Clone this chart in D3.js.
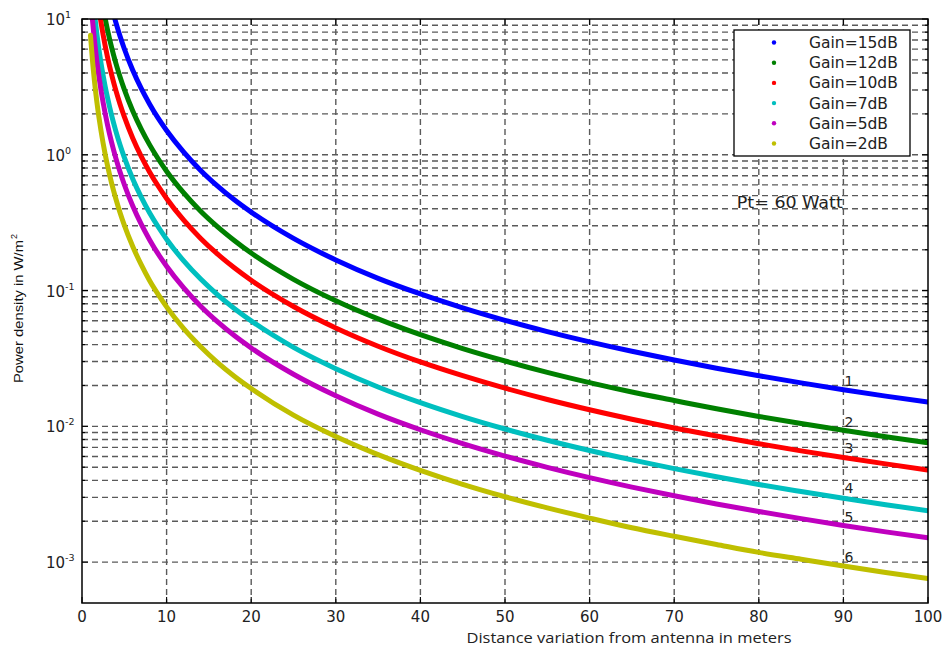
<!DOCTYPE html>
<html>
<head>
<meta charset="utf-8">
<script src="https://cdn.jsdelivr.net/npm/d3@7"></script>
<style>
  body { margin: 0; background: #fff; }
  svg { display: block; }
</style>
</head>
<body>
<div id="chart"></div>
<script>
// distances (m) where the curves were read
var distances = [1, 1.25, 1.5, 1.75, 2, 2.25, 2.5, 2.75, 3, 3.5, 4, 4.5, 5, 6, 7, 8, 9, 10,
  12, 14, 16, 18, 20, 25, 30, 35, 40, 45, 50, 55, 60, 65, 70, 75, 80, 85, 90, 95, 100];

// power density (W/m^2), null = above the plot
var gain15 = [null, null, null, null, null, null, null, null, null, 12.3, 9.44, 7.46, 6.04, 4.19, 3.08, 2.36, 1.86, 1.51,
  1.05, 0.77, 0.59, 0.466, 0.378, 0.242, 0.168, 0.123, 0.0944, 0.0746, 0.0604, 0.0499, 0.0419, 0.0357, 0.0308, 0.0268, 0.0236, 0.0209, 0.0186, 0.0167, 0.0151];
var gain12 = [null, null, null, null, null, null, 12.1, 10.0, 8.41, 6.18, 4.73, 3.74, 3.03, 2.10, 1.545, 1.183, 0.935, 0.757,
  0.526, 0.386, 0.296, 0.234, 0.189, 0.121, 0.0841, 0.0618, 0.0473, 0.0374, 0.0303, 0.025, 0.021, 0.0179, 0.0155, 0.01346, 0.01183, 0.01048, 0.00935, 0.00839, 0.00757];
var gain10 = [null, null, null, null, 11.9, 9.42, 7.63, 6.31, 5.30, 3.89, 2.98, 2.36, 1.91, 1.325, 0.973, 0.745, 0.589, 0.477,
  0.331, 0.243, 0.186, 0.147, 0.119, 0.0763, 0.053, 0.0389, 0.0298, 0.0236, 0.0191, 0.01577, 0.01325, 0.01129, 0.00973, 0.00848, 0.00745, 0.0066, 0.00589, 0.00529, 0.00477];
var gain7 = [null, null, 10.6, 7.8, 5.98, 4.72, 3.82, 3.16, 2.66, 1.95, 1.494, 1.18, 0.956, 0.664, 0.488, 0.373, 0.295, 0.239,
  0.166, 0.122, 0.0934, 0.0738, 0.0598, 0.0382, 0.0266, 0.0195, 0.01494, 0.0118, 0.00956, 0.0079, 0.00664, 0.00566, 0.00488, 0.00425, 0.00373, 0.00331, 0.00295, 0.00265, 0.00239];
var gain5 = [15.1, 9.66, 6.71, 4.93, 3.78, 2.98, 2.42, 2.0, 1.68, 1.233, 0.944, 0.746, 0.604, 0.419, 0.308, 0.236, 0.186, 0.151,
  0.105, 0.077, 0.059, 0.0466, 0.0378, 0.0242, 0.0168, 0.0123, 0.00944, 0.00746, 0.00604, 0.00499, 0.00419, 0.00357, 0.00308, 0.00268, 0.00236, 0.00209, 0.00186, 0.00167, 0.00151];
var gain2 = [7.58, 4.85, 3.37, 2.47, 1.895, 1.497, 1.213, 1.002, 0.842, 0.619, 0.474, 0.374, 0.303, 0.211, 0.155, 0.118, 0.0936, 0.0758,
  0.0526, 0.0387, 0.0296, 0.0234, 0.019, 0.0121, 0.00842, 0.00619, 0.00474, 0.00374, 0.00303, 0.00251, 0.00211, 0.00179, 0.00155, 0.00135, 0.00118, 0.00105, 0.000936, 0.00084, 0.000758];

var seriesNames = ["Gain=15dB", "Gain=12dB", "Gain=10dB", "Gain=7dB", "Gain=5dB", "Gain=2dB"];
var seriesColors = ["#0000ff", "#008000", "#ff0000", "#00bfbf", "#bf00bf", "#bfbf00"];
var seriesValues = [gain15, gain12, gain10, gain7, gain5, gain2];

var xTicks = [0, 10, 20, 30, 40, 50, 60, 70, 80, 90, 100];
var yDecades = [-3, -2, -1, 0, 1];

// curve numbers written near x = 90
var curveLabels = ["1", "2", "3", "4", "5", "6"];
var curveLabelX = 90;
var curveLabelY = [0.0215, 0.0107, 0.0069, 0.0035, 0.00215, 0.00108];

var noteText = "Pt= 60 Watt";
var noteX = 77.4, noteY = 0.44;

var svgWidth = 945, svgHeight = 651;
var margin = { top: 19, right: 17, bottom: 48, left: 82 };
var chartWidth = svgWidth - margin.left - margin.right;
var chartHeight = svgHeight - margin.top - margin.bottom;

var svg = d3.select("#chart").append("svg")
  .attr("width", svgWidth)
  .attr("height", svgHeight);

var chartGroup = svg.append("g")
  .attr("transform", `translate(${margin.left}, ${margin.top})`);

var xScale = d3.scaleLinear().domain([0, 100]).range([0, chartWidth]);
var yScale = d3.scaleLog().domain([5e-4, 10]).range([chartHeight, 0]);

// minor grid values on the log axis
var yGrid = [];
yDecades.forEach(function(p) {
  for (var m = 1; m <= 9; m++) {
    var v = m * Math.pow(10, p);
    if (v >= 5e-4 && v <= 10) yGrid.push(v);
  }
});

var gridColor = "#5a5a5a";
chartGroup.append("g").selectAll("line")
  .data(yGrid.filter(d => d < 10))
  .enter().append("line")
    .attr("x1", 0).attr("x2", chartWidth)
    .attr("y1", d => yScale(d)).attr("y2", d => yScale(d))
    .attr("stroke", gridColor)
    .attr("stroke-width", 1.4)
    .attr("stroke-dasharray", "6,4");

chartGroup.append("g").selectAll("line")
  .data(xTicks.filter(d => d > 0 && d < 100))
  .enter().append("line")
    .attr("x1", d => xScale(d)).attr("x2", d => xScale(d))
    .attr("y1", 0).attr("y2", chartHeight)
    .attr("stroke", gridColor)
    .attr("stroke-width", 1.4)
    .attr("stroke-dasharray", "6,4");

// clip curves to plot area
svg.append("defs").append("clipPath").attr("id", "plotClip")
  .append("rect").attr("width", chartWidth).attr("height", chartHeight);

var line = d3.line()
  .defined(d => d[1] != null)
  .x(d => xScale(d[0]))
  .y(d => yScale(d[1]))
  .curve(d3.curveMonotoneX);

var curves = chartGroup.append("g").attr("clip-path", "url(#plotClip)");
seriesValues.forEach(function(vals, i) {
  var pts = distances.map((d, j) => [d, vals[j]]);
  curves.append("path")
    .datum(pts)
    .attr("d", line)
    .attr("fill", "none")
    .attr("stroke", seriesColors[i])
    .attr("stroke-width", 5)
    .attr("stroke-linecap", "round")
    .attr("stroke-linejoin", "round");
});

// frame
chartGroup.append("rect")
  .attr("width", chartWidth).attr("height", chartHeight)
  .attr("fill", "none").attr("stroke", "#000").attr("stroke-width", 1.5);

// inward ticks
var ticks = chartGroup.append("g").attr("stroke", "#000").attr("stroke-width", 1.1);
xTicks.forEach(function(t) {
  ticks.append("line").attr("x1", xScale(t)).attr("x2", xScale(t)).attr("y1", chartHeight).attr("y2", chartHeight - 6);
  ticks.append("line").attr("x1", xScale(t)).attr("x2", xScale(t)).attr("y1", 0).attr("y2", 6);
});
yGrid.forEach(function(v) {
  var major = Math.abs(Math.log10(v) - Math.round(Math.log10(v))) < 1e-9;
  var len = major ? 6 : 3;
  ticks.append("line").attr("x1", 0).attr("x2", len).attr("y1", yScale(v)).attr("y2", yScale(v));
  ticks.append("line").attr("x1", chartWidth).attr("x2", chartWidth - len).attr("y1", yScale(v)).attr("y2", yScale(v));
});

// x tick labels
chartGroup.append("g").selectAll("text")
  .data(xTicks)
  .enter().append("text")
    .attr("x", d => xScale(d))
    .attr("y", chartHeight + 19)
    .attr("text-anchor", "middle")
    .attr("font-family", "DejaVu Sans, sans-serif")
    .attr("font-size", "15px")
    .attr("fill", "#222")
    .text(d => d);

// y tick labels 10^p
var yLab = chartGroup.append("g").selectAll("text")
  .data(yDecades)
  .enter().append("text")
    .attr("x", -36)
    .attr("y", d => yScale(Math.pow(10, d)) + 6)
    .attr("font-family", "DejaVu Sans, sans-serif")
    .attr("font-size", "15px")
    .attr("fill", "#222");
yLab.append("tspan").text("10");
yLab.append("tspan")
  .attr("dy", -7)
  .attr("font-size", "9.5px")
  .text(d => d < 0 ? "-" + (-d) : d);

// axis titles
svg.append("text")
  .attr("x", 629)
  .attr("y", 643)
  .attr("text-anchor", "middle")
  .attr("font-family", "Open Sans, sans-serif")
  .attr("font-size", "15px")
  .attr("fill", "#222")
  .attr("textLength", 325)
  .attr("lengthAdjust", "spacingAndGlyphs")
  .text("Distance variation from antenna in meters");

var yTitle = svg.append("g").attr("transform", "translate(23, 383) rotate(-90)");
yTitle.append("text")
  .attr("x", 0).attr("y", 0)
  .attr("font-family", "Liberation Sans, Arial, sans-serif")
  .attr("font-size", "13px")
  .attr("fill", "#111")
  .attr("textLength", 143)
  .attr("lengthAdjust", "spacingAndGlyphs")
  .text("Power density in W/m");
yTitle.append("text")
  .attr("x", 144).attr("y", -6)
  .attr("font-family", "Liberation Sans, Arial, sans-serif")
  .attr("font-size", "9px")
  .attr("fill", "#111")
  .text("2");

// curve number labels
chartGroup.append("g").selectAll("text")
  .data(curveLabels)
  .enter().append("text")
    .attr("x", xScale(curveLabelX) + 1)
    .attr("y", (d, i) => yScale(curveLabelY[i]))
    .attr("dy", "0.35em")
    .attr("font-family", "DejaVu Sans, sans-serif")
    .attr("font-size", "14px")
    .attr("fill", "#222")
    .text(d => d);

// note
chartGroup.append("text")
  .attr("x", xScale(noteX))
  .attr("y", yScale(noteY))
  .attr("dy", "0.35em")
  .attr("font-family", "DejaVu Sans, sans-serif")
  .attr("font-size", "15px")
  .attr("fill", "#222")
  .attr("textLength", 106)
  .attr("lengthAdjust", "spacingAndGlyphs")
  .text(noteText);

// legend
var legend = svg.append("g").attr("transform", "translate(734, 30)");
legend.append("rect")
  .attr("width", 176).attr("height", 126)
  .attr("fill", "#fff").attr("stroke", "#000").attr("stroke-width", 1.3);
var entries = legend.selectAll("g.entry")
  .data(seriesNames)
  .enter().append("g")
    .attr("class", "entry")
    .attr("transform", (d, i) => `translate(0, ${12.5 + i * 20.2})`);
entries.append("circle")
  .attr("cx", 40).attr("cy", 0).attr("r", 2.2)
  .attr("fill", (d, i) => seriesColors[i]);
entries.append("text")
  .attr("x", 75).attr("y", 0)
  .attr("dy", "0.36em")
  .attr("font-family", "DejaVu Sans, sans-serif")
  .attr("font-size", "15.5px")
  .attr("fill", "#222")
  .text(d => d);
</script>
</body>
</html>
